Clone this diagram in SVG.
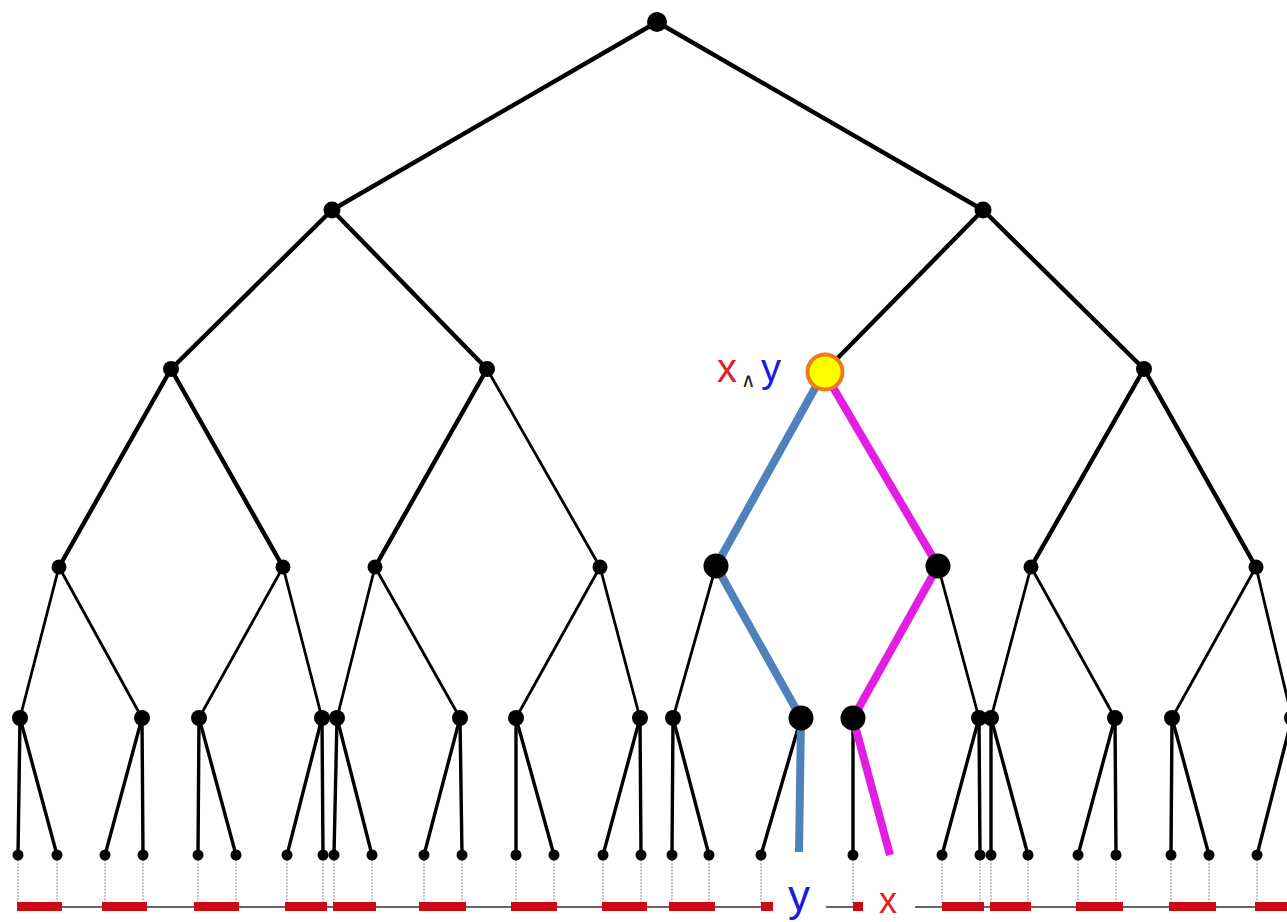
<svg xmlns="http://www.w3.org/2000/svg" width="1287" height="922" viewBox="0 0 1287 922">
<style>
.e4{stroke:#000;stroke-width:4.4;fill:none;stroke-linecap:round}
.e3{stroke:#000;stroke-width:3.4;fill:none;stroke-linecap:round}
.e2{stroke:#000;stroke-width:2.8;fill:none;stroke-linecap:round}
.dot{stroke:#888;stroke-width:1.2;stroke-dasharray:1.6 1.6;fill:none}
.bar{fill:#CC0A16}
.base{stroke:#333;stroke-width:1.6}
.n{fill:#000}
.t{font-family:"Liberation Sans",Arial,sans-serif}
</style>
<rect width="1287" height="922" fill="#fff"/>
<g id="connectors">
  <g id="edges-top">
    <line class="e4" x1="657" y1="22" x2="332" y2="210"/>
    <line class="e4" x1="657" y1="22" x2="983" y2="210"/>
    <line class="e4" x1="332" y1="210" x2="171" y2="369"/>
    <line class="e4" x1="332" y1="210" x2="487" y2="369"/>
    <line class="e4" x1="983" y1="210" x2="824" y2="372"/>
    <line class="e4" x1="983" y1="210" x2="1144" y2="369"/>
    <line class="e4" x1="171" y1="369" x2="59" y2="567"/>
    <line class="e4" x1="171" y1="369" x2="283" y2="567"/>
    <line class="e4" x1="487" y1="369" x2="375" y2="567"/>
    <line class="e2" x1="487" y1="369" x2="600" y2="567"/>
    <line class="e4" x1="1144" y1="369" x2="1031" y2="567"/>
    <line class="e4" x1="1144" y1="369" x2="1256" y2="567"/>
  </g>
  <g id="edges-l3">
    <line class="e2" x1="59" y1="567" x2="20" y2="718"/>
    <line class="e2" x1="59" y1="567" x2="142" y2="718"/>
    <line class="e2" x1="283" y1="567" x2="199" y2="718"/>
    <line class="e2" x1="283" y1="567" x2="322" y2="718"/>
    <line class="e2" x1="375" y1="567" x2="337" y2="718"/>
    <line class="e2" x1="375" y1="567" x2="460" y2="718"/>
    <line class="e2" x1="600" y1="567" x2="516" y2="718"/>
    <line class="e2" x1="600" y1="567" x2="640" y2="718"/>
    <line class="e2" x1="716" y1="566" x2="673" y2="718"/>
    <line class="e2" x1="938" y1="566" x2="979" y2="718"/>
    <line class="e2" x1="1031" y1="567" x2="991" y2="718"/>
    <line class="e2" x1="1031" y1="567" x2="1115" y2="718"/>
    <line class="e2" x1="1256" y1="567" x2="1172" y2="718"/>
    <line class="e2" x1="1256" y1="567" x2="1292" y2="718"/>
  </g>
  <g id="edges-l4">
    <line class="e3" x1="20" y1="718" x2="18" y2="855"/>
    <line class="e3" x1="20" y1="718" x2="57" y2="855"/>
    <line class="e3" x1="142" y1="718" x2="105" y2="855"/>
    <line class="e3" x1="142" y1="718" x2="143" y2="855"/>
    <line class="e3" x1="199" y1="718" x2="198" y2="855"/>
    <line class="e3" x1="199" y1="718" x2="236" y2="855"/>
    <line class="e3" x1="322" y1="718" x2="287" y2="855"/>
    <line class="e3" x1="322" y1="718" x2="323" y2="855"/>
    <line class="e3" x1="337" y1="718" x2="334" y2="855"/>
    <line class="e3" x1="337" y1="718" x2="372" y2="855"/>
    <line class="e3" x1="460" y1="718" x2="424" y2="855"/>
    <line class="e3" x1="460" y1="718" x2="462" y2="855"/>
    <line class="e3" x1="516" y1="718" x2="516" y2="855"/>
    <line class="e3" x1="516" y1="718" x2="554" y2="855"/>
    <line class="e3" x1="640" y1="718" x2="603" y2="855"/>
    <line class="e3" x1="640" y1="718" x2="641" y2="855"/>
    <line class="e3" x1="673" y1="718" x2="672" y2="855"/>
    <line class="e3" x1="673" y1="718" x2="709" y2="855"/>
    <line class="e3" x1="801" y1="718" x2="761" y2="855"/>
    <line class="e3" x1="853" y1="718" x2="853" y2="855"/>
    <line class="e3" x1="979" y1="718" x2="942" y2="855"/>
    <line class="e3" x1="979" y1="718" x2="980" y2="855"/>
    <line class="e3" x1="991" y1="718" x2="991" y2="855"/>
    <line class="e3" x1="991" y1="718" x2="1028" y2="855"/>
    <line class="e3" x1="1115" y1="718" x2="1078" y2="855"/>
    <line class="e3" x1="1115" y1="718" x2="1116" y2="855"/>
    <line class="e3" x1="1172" y1="718" x2="1171" y2="855"/>
    <line class="e3" x1="1172" y1="718" x2="1209" y2="855"/>
    <line class="e3" x1="1292" y1="718" x2="1257" y2="855"/>
  </g>
  <g id="paths">
    <polyline points="824,372 716,566 801,718 799,852" fill="none" stroke="#4F81BD" stroke-width="8" stroke-linejoin="round"/>
    <polyline points="824,372 938,566 853,718 890,855" fill="none" stroke="#E31EE3" stroke-width="8" stroke-linejoin="round"/>
  </g>
  <g id="dotted">
    <path class="dot" d="M18 860V903M57 860V903M105 860V903M143 860V903M198 860V903M236 860V903M287 860V903M323 860V903M334 860V903M372 860V903M424 860V903M462 860V903M516 860V903M554 860V903M603 860V903M641 860V903M672 860V903M709 860V903M761 860V903M853 860V903M942 860V903M980 860V903M991 860V903M1028 860V903M1078 860V903M1116 860V903M1171 860V903M1209 860V903M1257 860V903"/>
  </g>
</g>
<g id="axis">
  <line class="base" x1="17" y1="907" x2="773" y2="907"/>
  <line class="base" x1="826" y1="907" x2="863" y2="907"/>
  <line class="base" x1="915" y1="907" x2="1287" y2="907"/>
  <rect class="bar" x="17" y="902" width="45" height="9"/>
  <rect class="bar" x="102" y="902" width="45" height="9"/>
  <rect class="bar" x="194" y="902" width="45" height="9"/>
  <rect class="bar" x="285" y="902" width="42" height="9"/>
  <rect class="bar" x="333" y="902" width="43" height="9"/>
  <rect class="bar" x="419" y="902" width="47" height="9"/>
  <rect class="bar" x="511" y="902" width="46" height="9"/>
  <rect class="bar" x="602" y="902" width="45" height="9"/>
  <rect class="bar" x="669" y="902" width="46" height="9"/>
  <rect class="bar" x="761" y="902" width="12" height="9"/>
  <rect class="bar" x="853" y="902" width="10" height="9"/>
  <rect class="bar" x="942" y="902" width="42" height="9"/>
  <rect class="bar" x="990" y="902" width="41" height="9"/>
  <rect class="bar" x="1076" y="902" width="47" height="9"/>
  <rect class="bar" x="1169" y="902" width="47" height="9"/>
  <rect class="bar" x="1255" y="902" width="40" height="9"/>
</g>
<g id="nodes">
  <g id="root"><circle class="n" cx="657" cy="22" r="10"/></g>
  <g id="l1"><circle class="n" cx="332" cy="210" r="8.5"/><circle class="n" cx="983" cy="210" r="8.5"/></g>
  <g id="l2"><circle class="n" cx="171" cy="369" r="8"/><circle class="n" cx="487" cy="369" r="8"/><circle class="n" cx="1144" cy="369" r="8"/></g>
  <g id="lca"><circle cx="825" cy="372" r="17.5" fill="#FFFF00" stroke="#F07A18" stroke-width="4"/></g>
  <g id="l3">
    <circle class="n" cx="59" cy="567" r="7.5"/><circle class="n" cx="283" cy="567" r="7.5"/>
    <circle class="n" cx="375" cy="567" r="7.5"/><circle class="n" cx="600" cy="567" r="7.5"/>
    <circle class="n" cx="716" cy="566" r="12.5"/><circle class="n" cx="938" cy="566" r="12.5"/>
    <circle class="n" cx="1031" cy="567" r="7.5"/><circle class="n" cx="1256" cy="567" r="7.5"/>
  </g>
  <g id="l4">
    <circle class="n" cx="20" cy="718" r="8"/><circle class="n" cx="142" cy="718" r="8"/>
    <circle class="n" cx="199" cy="718" r="8"/><circle class="n" cx="322" cy="718" r="8"/>
    <circle class="n" cx="337" cy="718" r="8"/><circle class="n" cx="460" cy="718" r="8"/>
    <circle class="n" cx="516" cy="718" r="8"/><circle class="n" cx="640" cy="718" r="8"/>
    <circle class="n" cx="673" cy="718" r="8"/><circle class="n" cx="801" cy="718" r="12.5"/>
    <circle class="n" cx="853" cy="718" r="12.5"/><circle class="n" cx="979" cy="718" r="8"/>
    <circle class="n" cx="991" cy="718" r="8"/><circle class="n" cx="1115" cy="718" r="8"/>
    <circle class="n" cx="1172" cy="718" r="8"/><circle class="n" cx="1292" cy="718" r="8"/>
  </g>
  <g id="leaves">
    <circle class="n" cx="18" cy="855" r="5.5"/><circle class="n" cx="57" cy="855" r="5.5"/>
    <circle class="n" cx="105" cy="855" r="5.5"/><circle class="n" cx="143" cy="855" r="5.5"/>
    <circle class="n" cx="198" cy="855" r="5.5"/><circle class="n" cx="236" cy="855" r="5.5"/>
    <circle class="n" cx="287" cy="855" r="5.5"/><circle class="n" cx="323" cy="855" r="5.5"/>
    <circle class="n" cx="334" cy="855" r="5.5"/><circle class="n" cx="372" cy="855" r="5.5"/>
    <circle class="n" cx="424" cy="855" r="5.5"/><circle class="n" cx="462" cy="855" r="5.5"/>
    <circle class="n" cx="516" cy="855" r="5.5"/><circle class="n" cx="554" cy="855" r="5.5"/>
    <circle class="n" cx="603" cy="855" r="5.5"/><circle class="n" cx="641" cy="855" r="5.5"/>
    <circle class="n" cx="672" cy="855" r="5.5"/><circle class="n" cx="709" cy="855" r="5.5"/>
    <circle class="n" cx="761" cy="855" r="5.5"/><circle class="n" cx="853" cy="855" r="5.5"/>
    <circle class="n" cx="942" cy="855" r="5.5"/><circle class="n" cx="980" cy="855" r="5.5"/>
    <circle class="n" cx="991" cy="855" r="5.5"/><circle class="n" cx="1028" cy="855" r="5.5"/>
    <circle class="n" cx="1078" cy="855" r="5.5"/><circle class="n" cx="1116" cy="855" r="5.5"/>
    <circle class="n" cx="1171" cy="855" r="5.5"/><circle class="n" cx="1209" cy="855" r="5.5"/>
    <circle class="n" cx="1257" cy="855" r="5.5"/>
  </g>
</g>
<g id="labels">
  <text class="t" x="717" y="382" font-size="40" fill="#E0202C">x</text>
  <text x="741" y="387" font-size="20" fill="#222" font-family="'DejaVu Sans',sans-serif">∧</text>
  <text class="t" x="761" y="382" font-size="40" fill="#1A1AE0">y</text>
  <text class="t" x="799" y="911" font-size="44" fill="#1A1AE0" text-anchor="middle">y</text>
  <text class="t" x="888" y="913" font-size="36" fill="#E82020" text-anchor="middle">x</text>
</g>
</svg>
